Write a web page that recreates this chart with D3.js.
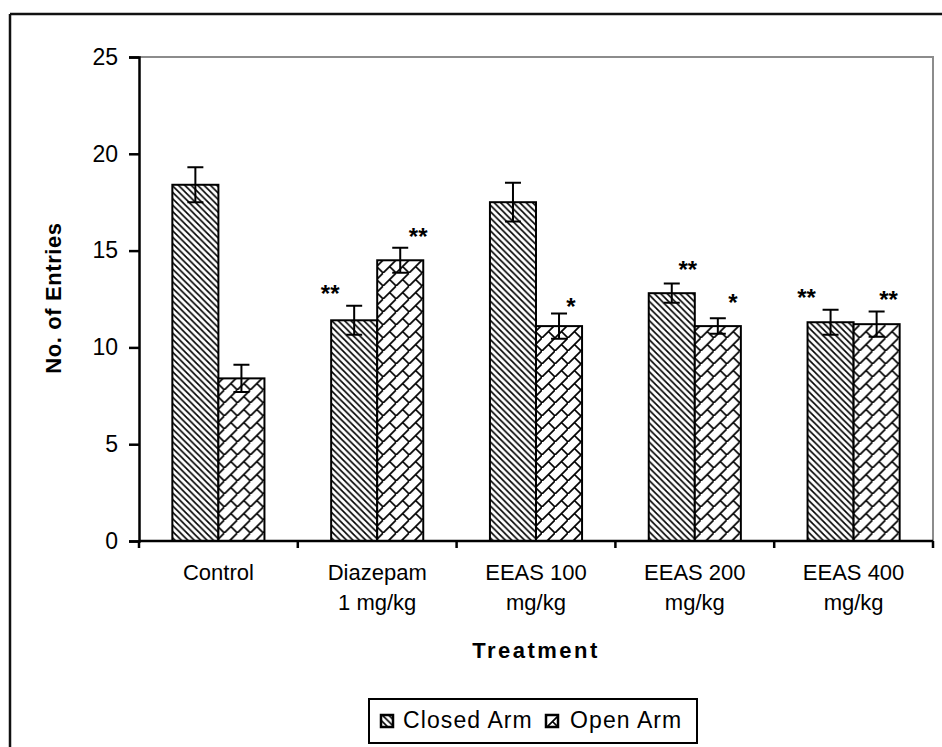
<!DOCTYPE html>
<html><head><meta charset="utf-8">
<script src="https://cdn.jsdelivr.net/npm/d3@7"></script>
<style>html,body{margin:0;padding:0;background:#fff;}svg{display:block;font-family:Arial,"Liberation Sans",sans-serif;}</style>
</head><body>
<svg id="chart" width="942" height="747"></svg>
<script>
// ---- data ----
const categories = [["Control"], ["Diazepam", "1 mg/kg"], ["EEAS 100", "mg/kg"], ["EEAS 200", "mg/kg"], ["EEAS 400", "mg/kg"]];
const seriesNames = ["Closed Arm", "Open Arm"];
const closedArm = [18.4, 11.4, 17.5, 12.8, 11.3];
const closedErr = [0.9, 0.75, 1.0, 0.5, 0.65];
const openArm = [8.4, 14.5, 11.1, 11.1, 11.2];
const openErr = [0.7, 0.65, 0.65, 0.4, 0.65];
const closedSig = ["", "**", "", "**", "**"];
const openSig = ["", "**", "*", "*", "**"];
const yTicks = [0, 5, 10, 15, 20, 25];
// annotation nudges (pixels) for manually placed significance marks
const closedSigNudge = [[0,0], [-24,-17], [0,0], [16,-19], [-24,-17]];
const openSigNudge = [[0,0], [18,-16], [12,-12], [15,-20], [12,-17]];

(function(){
const svg = d3.select("#chart");
const W = 942, H = 747;
const mLeft = 139, mRight = 933, mTop = 57, mBottom = 541;

const keys = categories.map((c, i) => "c" + i);
const x = d3.scaleBand().domain(keys).range([mLeft, mRight]).paddingInner(0.42).paddingOuter(0.21);
const xs = d3.scaleBand().domain(seriesNames).range([0, x.bandwidth()]);
const y = d3.scaleLinear().domain([0, 25]).range([mBottom, mTop]);

// patterns
const defs = svg.append("defs");
const s1 = 6.4;
const p1 = defs.append("pattern").attr("id", "closedPat").attr("patternUnits", "userSpaceOnUse")
  .attr("width", s1).attr("height", s1);
p1.append("rect").attr("width", s1).attr("height", s1).attr("fill", "#fff");
p1.append("path").attr("d", `M${-s1/2},${s1/2} L${s1/2},${s1*1.5} M0,0 L${s1},${s1} M${s1/2},${-s1/2} L${s1*1.5},${s1/2}`)
  .attr("stroke", "#000").attr("stroke-width", 1.6).attr("fill", "none");
const s2 = 13;
const p2 = defs.append("pattern").attr("id", "openPat").attr("patternUnits", "userSpaceOnUse")
  .attr("width", s2).attr("height", s2);
p2.append("rect").attr("width", s2).attr("height", s2).attr("fill", "#fff");
p2.append("path").attr("d", `M${-1},${s2+1} L${s2+1},${-1} M${s2/2},${s2/2} L${s2},${s2}`)
  .attr("stroke", "#000").attr("stroke-width", 1.7).attr("fill", "none");
const fills = {"Closed Arm": "url(#closedPat)", "Open Arm": "url(#openPat)"};

// outer frame (top and left visible)
svg.append("line").attr("x1", 10).attr("x2", W).attr("y1", 14).attr("y2", 14).attr("stroke", "#111").attr("stroke-width", 2.5);
svg.append("line").attr("x1", 10).attr("x2", 10).attr("y1", 14).attr("y2", H).attr("stroke", "#111").attr("stroke-width", 2.5);

// plot area border (top/right gray)
svg.append("path").attr("d", `M${mLeft},${mTop} H${mRight} V${mBottom}`).attr("fill", "none").attr("stroke", "#8c8c8c").attr("stroke-width", 2);

// bars
const rows = categories.map((c, i) => ({
  key: keys[i],
  vals: [
    {s: "Closed Arm", v: closedArm[i], e: closedErr[i], sig: closedSig[i], n: closedSigNudge[i]},
    {s: "Open Arm", v: openArm[i], e: openErr[i], sig: openSig[i], n: openSigNudge[i]}
  ]
}));
const g = svg.selectAll("g.cat").data(rows).join("g").attr("class", "cat")
  .attr("transform", d => `translate(${x(d.key)},0)`);
g.selectAll("rect").data(d => d.vals).join("rect")
  .attr("x", d => xs(d.s)).attr("width", xs.bandwidth())
  .attr("y", d => y(d.v)).attr("height", d => y(0) - y(d.v))
  .attr("fill", d => fills[d.s]).attr("stroke", "#000").attr("stroke-width", 2);
// error bars
g.selectAll("path.err").data(d => d.vals).join("path").attr("class", "err")
  .attr("d", d => {
    const cx = xs(d.s) + xs.bandwidth() / 2, t = y(d.v + d.e), b = y(d.v - d.e);
    return `M${cx},${t} V${b} M${cx-8},${t} H${cx+8} M${cx-8},${b} H${cx+8}`;
  }).attr("stroke", "#000").attr("stroke-width", 2).attr("fill", "none");
// significance
g.selectAll("text.sig").data(d => d.vals.filter(v => v.sig)).join("text").attr("class", "sig")
  .attr("x", d => xs(d.s) + xs.bandwidth() / 2 + d.n[0])
  .attr("y", d => y(d.v + d.e) + d.n[1] + 13)
  .attr("text-anchor", "middle").attr("font-size", 24).attr("font-weight", "bold").attr("fill", "#000")
  .text(d => d.sig);

// y axis
const yAxis = d3.axisLeft(y).tickValues(yTicks).tickSize(10).tickPadding(11);
const ya = svg.append("g").attr("transform", `translate(${mLeft},0)`).call(yAxis);
ya.select(".domain").attr("stroke", "#000").attr("stroke-width", 2.5);
ya.selectAll(".tick line").attr("stroke", "#000").attr("stroke-width", 2.5);
ya.selectAll(".tick text").attr("font-size", 23).attr("fill", "#000").attr("font-family", "Arial, Liberation Sans, sans-serif");

// x axis
const xa = svg.append("g").attr("transform", `translate(0,${mBottom})`);
xa.append("line").attr("x1", mLeft).attr("x2", mRight).attr("stroke", "#000").attr("stroke-width", 2.5);
const bounds = keys.map(k => x(k) - x.step() * x.paddingInner() / 2).concat([mRight]);
xa.selectAll("line.t").data(bounds).join("line").attr("class", "t")
  .attr("x1", d => d).attr("x2", d => d).attr("y1", 0).attr("y2", 7).attr("stroke", "#000").attr("stroke-width", 2.5);
const lab = xa.selectAll("text.cl").data(rows).join("text").attr("class", "cl")
  .attr("text-anchor", "middle").attr("font-size", 22).attr("fill", "#000");
lab.each(function(d, i) {
  const cx = x(d.key) + x.bandwidth() / 2;
  d3.select(this).selectAll("tspan").data(categories[i]).join("tspan")
    .attr("x", cx).attr("y", (t, j) => 39 + j * 30).text(t => t);
});

// axis titles
svg.append("text").attr("transform", `translate(61,298) rotate(-90)`)
  .attr("text-anchor", "middle").attr("font-size", 22).attr("font-weight", "bold").attr("letter-spacing", 0.6).attr("fill", "#000")
  .text("No. of Entries");
svg.append("text").attr("x", 536).attr("y", 658).attr("text-anchor", "middle")
  .attr("font-size", 22).attr("font-weight", "bold").attr("letter-spacing", 2.5).attr("fill", "#000")
  .text("Treatment");

// legend
const lg = svg.append("g");
lg.append("rect").attr("x", 369).attr("y", 699).attr("width", 328).attr("height", 44)
  .attr("fill", "#fff").attr("stroke", "#000").attr("stroke-width", 2);
const legItems = [{s: "Closed Arm", mx: 381, tx: 403}, {s: "Open Arm", mx: 546, tx: 570}];
legItems.forEach(it => {
  lg.append("rect").attr("x", it.mx).attr("y", 715).attr("width", 12).attr("height", 12)
    .attr("fill", fills[it.s]).attr("stroke", "#000").attr("stroke-width", 2.5);
  lg.append("text").attr("x", it.tx).attr("y", 728).attr("font-size", 23).attr("letter-spacing", 1.1).attr("fill", "#000").text(it.s);
});
})();
</script>
</body></html>
